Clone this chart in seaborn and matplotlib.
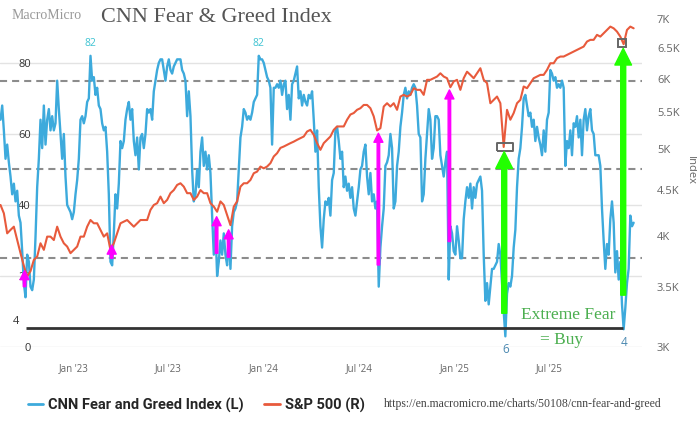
import matplotlib
matplotlib.use("Agg")
import matplotlib.pyplot as plt
import matplotlib.dates as mdates
import matplotlib.ticker as mticker
import matplotlib.transforms as mtransforms
from matplotlib.lines import Line2D
import pandas as pd
import seaborn as sns

BLUE = "#3DAADC"
RED = "#E85A3C"

# both series run from mid Aug 2022 to early Dec 2025, evenly sampled
START, END = "2022-08-14", "2025-12-09"

# CNN Fear & Greed Index (left axis), every ~3 days
fg_values = [
    64, 68, 61, 53, 57, 52, 48, 43, 46, 41, 44, 37, 35, 27, 18, 14, 26, 24, 17, 16,
    19, 31, 45, 53, 64, 56, 68, 57, 64, 67, 61, 65, 61, 63, 75, 67, 60, 53, 60, 48,
    40, 39, 38, 36, 38, 43, 47, 53, 64, 65, 63, 65, 69, 70, 82, 75, 76, 71, 73, 68,
    67, 63, 61, 62, 55, 43, 24, 23, 32, 43, 39, 46, 58, 56, 58, 64, 67, 69, 64, 67,
    58, 54, 59, 50, 59, 60, 56, 60, 67, 66, 67, 64, 72, 75, 78, 80, 81, 81, 78, 75,
    79, 81, 78, 77, 79, 80, 81, 81, 81, 78, 77, 75, 65, 72, 65, 50, 41, 43, 50, 45,
    55, 59, 51, 55, 50, 54, 49, 37, 26, 34, 20, 24, 30, 26, 32, 26, 23, 31, 22, 34,
    38, 39, 41, 50, 59, 62, 67, 66, 64, 65, 64, 66, 69, 70, 71, 82, 81, 81, 80, 78,
    76, 75, 73, 57, 73, 73, 74, 73, 75, 71, 74, 75, 67, 71, 64, 74, 75, 77, 79, 70,
    72, 68, 71, 69, 68, 71, 70, 72, 64, 55, 61, 45, 34, 28, 36, 41,
    40, 42, 37, 47, 49, 61, 62, 58, 53, 55, 45, 48, 44, 46, 42, 45, 39, 37, 41, 45,
    50, 51, 55, 57, 48, 43, 49, 41, 43, 39, 41, 17, 28, 34, 39, 51, 52, 54, 60, 56,
    39, 41, 51, 55, 62, 66, 71, 73, 70, 72, 71, 73, 74, 73, 68, 60, 59, 41, 43, 53,
    60, 67, 64, 53, 56, 65, 65, 64, 54, 51, 48, 52, 55, 19, 34, 32, 27, 26, 34, 30,
    25, 25, 36, 41, 45, 42, 46, 39, 45, 42, 46, 47, 48, 44, 26, 13,
    18, 12, 17, 22, 22, 23, 24, 29, 26, 18, 10, 3, 15, 18, 17, 20, 28, 33, 45, 53,
    56, 62, 70, 71, 68, 65, 66, 62, 64, 58, 62, 59, 57, 54, 61, 55, 64, 66, 78, 77,
    75, 76, 73, 74, 73, 75, 73, 51, 58, 56, 61, 54, 63, 62, 65, 59, 64, 54, 64, 67,
    61, 65, 67, 61, 60, 54, 54, 54, 51, 39, 30, 22, 29, 26, 36, 41, 35, 21, 27, 19,
    24, 12, 5, 11, 18, 22, 37, 34, 35,
]

# S&P 500 (right axis, log), every ~6.5 days
sp_values = [
    4330, 4238, 4024, 4060, 4094, 3955, 3823, 3700, 3600, 3650,
    3757, 3790, 3922, 3856, 3990, 3990, 3955, 4094, 3990, 3922,
    3889, 3823, 3856, 3889, 3990, 3990, 4094, 4165, 4130, 4130,
    4060, 3990, 4024, 3856, 3922, 4024, 4130, 4148, 4165, 4130,
    4094, 4130, 4165, 4165, 4165, 4275, 4330, 4350, 4425, 4350,
    4387, 4464, 4500, 4560, 4580, 4540, 4464, 4464, 4387, 4425,
    4500, 4464, 4464, 4350, 4312, 4255, 4370, 4330, 4220, 4110,
    4312, 4370, 4540, 4580, 4580, 4619, 4700, 4720, 4782, 4760,
    4782, 4824, 4908, 4950, 5018, 5036, 5058, 5080, 5100, 5124,
    5146, 5168, 5235, 5258, 5190, 5080, 4993, 5080,
    5124, 5168, 5258, 5304, 5304, 5304, 5397, 5470, 5491, 5537,
    5560, 5607, 5607, 5560, 5444, 5250, 5280, 5584, 5632, 5584,
    5632, 5537, 5730, 5755, 5730, 5755, 5855, 5830, 5830, 5755,
    5983, 5983, 6008, 6034, 6085, 6034, 6008, 5870, 5958, 5983,
    5830, 6008, 6110, 6060, 6008, 6085, 6165, 5983,
    5932, 5632, 5681, 5730, 5632, 5030, 5537, 5397, 5491, 5632,
    5681, 5881, 5855, 5932, 6008, 6034, 6060, 6060, 6138, 6245,
    6245, 6327, 6354, 6354, 6381, 6409, 6437, 6464, 6492, 6520,
    6605, 6634, 6634, 6720, 6690, 6748, 6806, 6865, 6835, 6777,
    6690, 6560, 6806, 6865, 6835,
]

# magenta "buy" arrows: date, from, to (left axis units)
pink_dates = ["2022-09-29", "2023-03-15", "2023-10-02", "2023-10-25", "2024-08-07", "2024-12-21"]
pink_from = [17, 25, 26.4, 25.3, 23.1, 29.7]
pink_to = [21.5, 28.7, 36.7, 33, 60.2, 72.4]

# green extreme-fear arrows
green_dates = ["2025-04-05", "2025-11-19"]
green_from = [9.5, 14.6]
green_to = [55, 84.1]

# S&P levels boxed at the extreme fear lows
box_dates = ["2025-04-07", "2025-11-16"]
box_values = [5025, 6576]

fg = pd.DataFrame({"date": pd.date_range(START, END, periods=len(fg_values)), "value": fg_values})
sp = pd.DataFrame({"date": pd.date_range(START, END, periods=len(sp_values)), "value": sp_values})

sns.set_style("white")
plt.rcParams["font.family"] = ["Open Sans", "DejaVu Sans"]

fig = plt.figure(figsize=(6.97, 4.24), dpi=100)
ax = fig.add_axes([0, 77 / 424, 642 / 697, 337 / 424])
ax2 = ax.twinx()

sns.lineplot(data=fg, x="date", y="value", ax=ax, color=BLUE, linewidth=1.7)
sns.lineplot(data=sp, x="date", y="value", ax=ax2, color=RED, linewidth=1.5)

ax.set_xlim(pd.Timestamp("2022-08-13"), pd.Timestamp("2025-12-25"))
ax.set_ylim(0, 94.9)
ax2.set_yscale("log")
ax2.set_ylim(3000, 7166)

# grid + reference lines
ax.set_yticks([0, 20, 40, 60, 80])
ax.grid(axis="y", color="#e3e3e3", lw=1)
ax.grid(axis="x", visible=False)
for lvl in [25, 50, 75]:
    ax.axhline(lvl, color="#8c8c8c", lw=1.5, ls=(0, (3.4, 2.4)), zorder=1)
ax.hlines(5.4, pd.Timestamp("2022-10-02"), pd.Timestamp("2025-11-19"), color="#333333", lw=2)
ax.text(19 / 642, 7.1, "4", transform=mtransforms.blended_transform_factory(ax.transAxes, ax.transData),
        ha="right", va="center", fontsize=8, color="#333333")

for a in (ax, ax2):
    for s in a.spines.values():
        s.set_visible(False)
    a.set_xlabel("")
    a.set_ylabel("")

ax.tick_params(axis="y", length=0, pad=-22.3, labelsize=8, labelcolor="#333333")
ax.xaxis.set_major_locator(mdates.MonthLocator(bymonth=[1, 7]))
ax.xaxis.set_major_formatter(mdates.DateFormatter("%b '%y"))
ax.tick_params(axis="x", length=6.5, width=1, color="#cccccc", labelsize=7, labelcolor="#666666", pad=5)

ax2.yaxis.set_major_locator(mticker.FixedLocator([3000, 3500, 4000, 4500, 5000, 5500, 6000, 6500, 7000]))
ax2.yaxis.set_major_formatter(mticker.FuncFormatter(lambda v, p: f"{v / 1000:g}K"))
ax2.yaxis.set_minor_locator(mticker.NullLocator())
ax2.tick_params(axis="y", length=0, pad=10.8, labelsize=8, labelcolor="#666666")

# arrows (drawn on ax2 so they sit over both lines)
for d, y0, y1 in zip(pink_dates, pink_from, pink_to):
    x = mdates.date2num(pd.Timestamp(d))
    ax2.annotate("", xy=(x, y1), xytext=(x, y0), xycoords=ax.transData, textcoords=ax.transData,
                 arrowprops=dict(arrowstyle="simple,head_length=6.5,head_width=6.5,tail_width=1.8",
                                 mutation_scale=1, color="#FF00FF", shrinkA=0, shrinkB=0))
for d, y0, y1 in zip(green_dates, green_from, green_to):
    x = mdates.date2num(pd.Timestamp(d))
    ax2.annotate("", xy=(x, y1), xytext=(x, y0), xycoords=ax.transData, textcoords=ax.transData,
                 arrowprops=dict(arrowstyle="simple,head_length=12,head_width=12,tail_width=3.6",
                                 mutation_scale=1, color="#22FF00", shrinkA=0, shrinkB=0))

wide_box = [(-1, -0.47), (1, -0.47), (1, 0.47), (-1, 0.47), (-1, -0.47)]
ax2.plot([pd.Timestamp(box_dates[0])], [box_values[0]], marker=wide_box, ms=11, mfc="none",
         mec="#666666", mew=1.4, ls="none")
ax2.plot([pd.Timestamp(box_dates[1])], [box_values[1]], marker="s", ms=6, mfc="none",
         mec="#666666", mew=1.4, ls="none")

# value labels
for lo, hi in [("2022-12-01", "2023-03-01"), ("2023-11-01", "2024-02-01")]:
    seg = fg[(fg.date >= lo) & (fg.date <= hi)]
    row = seg.loc[seg.value.idxmax()]
    ax.text(row.date, 85.4, f"{row.value:g}", ha="center", va="center", fontsize=7.5, color="#3ec3d2")
for lo, hi, yv in [("2025-03-01", "2025-05-01", -0.6), ("2025-10-15", "2025-12-10", 1.4)]:
    seg = fg[(fg.date >= lo) & (fg.date <= hi)]
    row = seg.loc[seg.value.idxmin()]
    lab = "6" if yv < 0 else "4"
    ax.text(row.date, yv, lab, ha="center", va="center", fontsize=8.5, color="#4a88b0")

ax2.text(pd.Timestamp("2025-08-05"), 9, "Extreme Fear", transform=ax.transData, ha="center", va="center",
         fontsize=12.5, color="#4caf50", family="Liberation Serif")
ax2.text(pd.Timestamp("2025-07-23"), 2, "= Buy", transform=ax.transData, ha="center", va="center",
         fontsize=12.5, color="#4caf50", family="Liberation Serif")

# titles and footer
fig.text(12 / 697, 1 - 15.5 / 424, "MacroMicro", family="Liberation Serif", fontsize=10,
         color="#999999", ha="left", va="center")
fig.text(101 / 697, 1 - 17 / 424, "CNN Fear & Greed Index", family="Liberation Serif", fontsize=16,
         color="#555555", ha="left", va="center")
fig.text(690.5 / 697, 1 - 171 / 424, "Index", rotation=270, fontsize=8, color="#666666",
         ha="center", va="center")

handles = [Line2D([], [], color=BLUE, lw=2), Line2D([], [], color=RED, lw=2)]
fig.legend(handles, ["CNN Fear and Greed Index (L)", "S&P 500 (R)"], loc="center left",
           bbox_to_anchor=(28 / 697, 1 - 405 / 424), ncol=2, frameon=False,
           prop=dict(family="Roboto", weight="bold", size=10.5), handlelength=1.05,
           handletextpad=0.35, columnspacing=1.4, borderaxespad=0, borderpad=0)
fig.text(384 / 697, 1 - 404 / 424, "https://en.macromicro.me/charts/50108/cnn-fear-and-greed",
         family="Liberation Serif", fontsize=8.5, color="#444444", ha="left", va="center")

fig.savefig("out.png", dpi=100)
